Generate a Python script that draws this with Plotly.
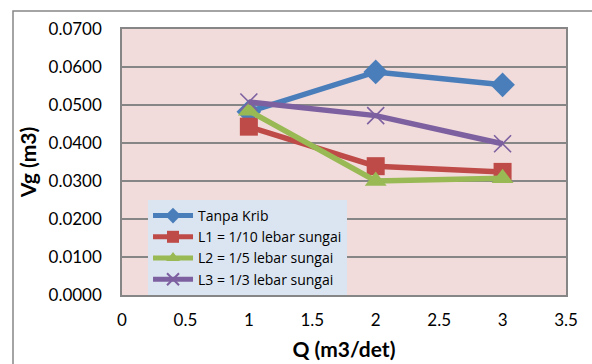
import plotly.graph_objects as go

# Discharge (m3/det) and sediment volume Vg (m3) per groyne configuration
q_values = [1, 2, 3]
tanpa_krib = [0.0482, 0.0587, 0.0553]
l1_tenth = [0.0443, 0.0339, 0.0324]
l2_fifth = [0.0485, 0.0300, 0.0307]
l3_third = [0.0508, 0.0472, 0.0398]

series_names = ["Tanpa Krib", "L1 = 1/10 lebar sungai",
                "L2 = 1/5 lebar sungai", "L3 = 1/3 lebar sungai"]
y_ticks = [0, 0.01, 0.02, 0.03, 0.04, 0.05, 0.06, 0.07]
x_ticks = [0, 0.5, 1, 1.5, 2, 2.5, 3, 3.5]

font_family = "Lato, 'Open Sans', sans-serif"

styles = [
    dict(color="#4a7ebb", symbol="diamond", size=19, lw=0),
    dict(color="#be4b48", symbol="square", size=18, lw=0),
    dict(color="#98b954", symbol="triangle-up", size=19, lw=0),
    dict(color="#7d60a0", symbol="x-thin-open", size=17, lw=1.6),
]

fig = go.Figure()
for name, ys, st in zip(series_names, [tanpa_krib, l1_tenth, l2_fifth, l3_third], styles):
    fig.add_trace(go.Scatter(
        x=q_values, y=ys, name=name, mode="lines+markers",
        line=dict(color=st["color"], width=5.5),
        marker=dict(symbol=st["symbol"], size=st["size"], color=st["color"],
                    line=dict(color=st["color"], width=st["lw"])),
    ))

fig.update_layout(
    width=592, height=364,
    margin=dict(l=122, r=26, t=29, b=69),
    paper_bgcolor="white",
    plot_bgcolor="#f2dcdb",
    font=dict(family=font_family, size=17, color="black"),
    showlegend=True,
    legend=dict(
        x=0.0586, y=0.0, xanchor="left", yanchor="bottom",
        bgcolor="#dbe5f1", font=dict(family="'Open Sans', sans-serif", size=14),
        tracegroupgap=0, itemwidth=40, itemsizing="constant",
        entrywidth=205, entrywidthmode="pixels",
    ),
    xaxis=dict(
        range=[0, 3.5], tickvals=x_ticks, ticktext=[f"{v:g}" for v in x_ticks],
        showgrid=False, zeroline=False, showline=True, linecolor="#868686",
        linewidth=1.5, mirror=True, automargin=False,
        ticks="outside", ticklen=9, tickcolor="rgba(0,0,0,0)",
        title=dict(text="<b>Q (m3/det)</b>", font=dict(size=21), standoff=13),
    ),
    yaxis=dict(
        range=[0, 0.07], tickvals=y_ticks, ticktext=[f"{v:.4f}" for v in y_ticks],
        showgrid=True, gridcolor="#868686", gridwidth=1.5, zeroline=False,
        showline=True, linecolor="#868686", linewidth=1.5, mirror=True,
        automargin=False,
        ticks="outside", ticklen=15, tickcolor="rgba(0,0,0,0)",
        title=dict(text="<b>Vg (m3)</b>", font=dict(size=21), standoff=6),
    ),
    shapes=[dict(
        type="rect", xref="paper", yref="paper",
        x0=(13 - 122) / 444, x1=(600 - 122) / 444,
        y0=(295 - 375) / 266, y1=(295 - 11) / 266,
        line=dict(color="#868686", width=1.5), fillcolor="rgba(0,0,0,0)",
        layer="below",
    )],
)

fig.write_html("out.html")
